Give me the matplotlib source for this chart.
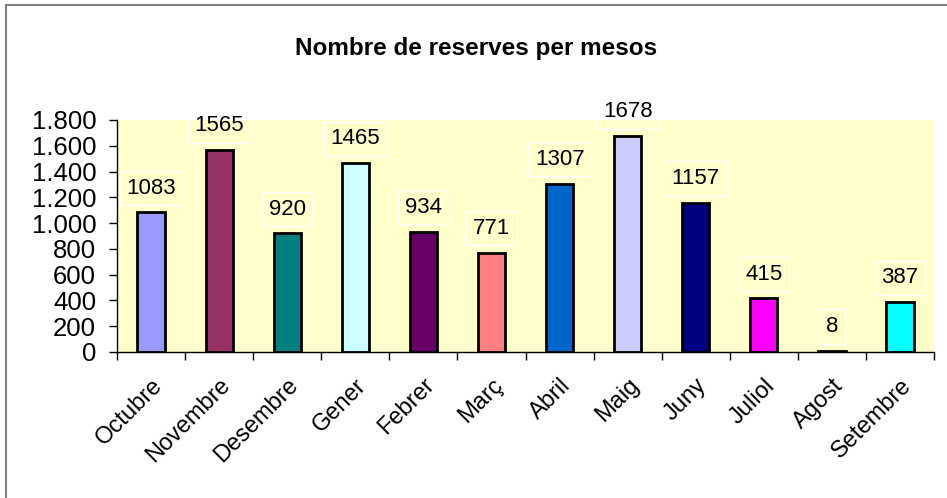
import matplotlib
matplotlib.use('agg')
import matplotlib.pyplot as plt
import matplotlib.transforms as mtransforms
from matplotlib.patches import Rectangle
from matplotlib.ticker import FuncFormatter, MultipleLocator

plt.rcParams['font.family'] = ['Liberation Sans', 'DejaVu Sans']

months = ['Octubre', 'Novembre', 'Desembre', 'Gener', 'Febrer', 'Març',
          'Abril', 'Maig', 'Juny', 'Juliol', 'Agost', 'Setembre']
reserves = [1083, 1565, 920, 1465, 934, 771, 1307, 1678, 1157, 415, 8, 387]
colors = ['#9999FF', '#993366', '#008080', '#CCFFFF', '#660066', '#FF8080',
          '#0066CC', '#CCCCFF', '#000080', '#FF00FF', '#FFFF00', '#00FFFF']

fig = plt.figure(figsize=(9.47, 4.98), dpi=100)
ax = fig.add_axes([0.1236, 0.2932, 0.8627, 0.4659])
ax.set_facecolor('#FFFFCC')

# outer chart border (only top/left visible in the reference)
fig.add_artist(Rectangle((6 / 947, -0.1), 1.2, 1.1 - 5 / 498, transform=fig.transFigure,
                         fill=False, edgecolor='#808080', linewidth=1.5))

x = range(len(months))
bars = ax.bar(x, reserves, width=0.4, color=colors, edgecolor='black', linewidth=2, zorder=2)

for xi, v in zip(x, reserves):
    ax.annotate(str(v), (xi, v), xytext=(0, 17.5), textcoords='offset points',
                ha='center', va='center', fontsize=16,
                bbox=dict(boxstyle='square,pad=0.3', fc='none', ec='white', lw=1))

ax.set_xlim(-0.5, len(months) - 0.5)
ax.set_ylim(0, 1800)
ax.yaxis.set_major_locator(MultipleLocator(200))
ax.yaxis.set_major_formatter(FuncFormatter(lambda v, p: f'{int(v):,}'.replace(',', '.')))

ax.set_xticks([i - 0.5 for i in range(len(months) + 1)], minor=False)
ax.set_xticklabels([])
ax.set_xticks(list(x), minor=True)
ax.set_xticklabels(months, minor=True, rotation=45, ha='right', rotation_mode='anchor', fontsize=17)
shift = mtransforms.ScaledTranslation(-5 / 100, 0, fig.dpi_scale_trans)
for lbl in ax.get_xticklabels(minor=True):
    lbl.set_transform(lbl.get_transform() + shift)
ax.tick_params(axis='x', which='minor', length=0, pad=16)
ax.tick_params(axis='x', which='major', length=6, width=1, direction='out')
ax.tick_params(axis='y', length=6, width=1, labelsize=18.5, pad=9)

for s in ['top', 'right']:
    ax.spines[s].set_visible(False)
ax.spines['left'].set_linewidth(1)
ax.spines['bottom'].set_linewidth(1)

fig.text(0.503, 0.902, 'Nombre de reserves per mesos', ha='center', va='center',
         fontsize=17.5, fontweight='bold')

plt.savefig('out.png', dpi=100)
